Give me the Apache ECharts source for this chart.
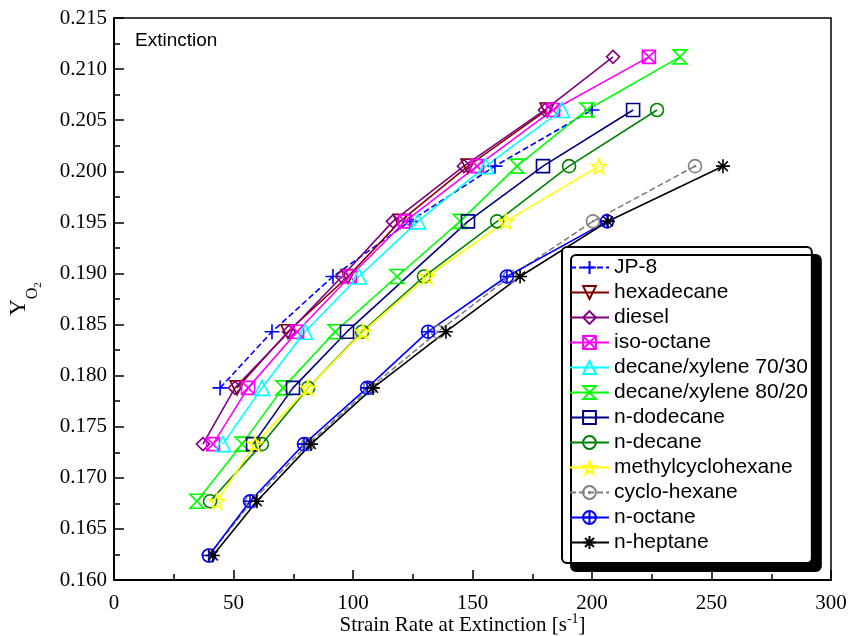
<!DOCTYPE html>
<html><head><meta charset="utf-8">
<script src="https://cdn.jsdelivr.net/npm/echarts@6/dist/echarts.min.js"></script>
<style>html,body{margin:0;padding:0;background:#fff}#c{width:853px;height:636px}</style>
</head><body><div id="c"></div>
<script>
// ---- data ----
const seriesNames = ['JP-8','hexadecane','diesel','iso-octane','decane/xylene 70/30','decane/xylene 80/20','n-dodecane','n-decane','methylcyclohexane','cyclo-hexane','n-octane','n-heptane'];
const jp8X = [44.4, 66.1, 91.6, 123.8, 159.4, 200.0];
const jp8Y = [0.1788, 0.1843, 0.1897, 0.1951, 0.2005, 0.2060];
const hexadecaneX = [51.5, 72.8, 97.9, 119.7, 148.1, 181.2];
const hexadecaneY = [0.1788, 0.1843, 0.1897, 0.1951, 0.2005, 0.2060];
const dieselX = [37.2, 50.6, 73.2, 95.4, 116.7, 146.4, 180.3, 208.8];
const dieselY = [0.1733, 0.1788, 0.1843, 0.1897, 0.1951, 0.2005, 0.2060, 0.2112];
const isoOctaneX = [41.4, 56.1, 76.6, 98.7, 121.8, 151.9, 183.7, 223.8];
const isoOctaneY = [0.1733, 0.1788, 0.1843, 0.1897, 0.1951, 0.2005, 0.2060, 0.2112];
const dx7030X = [45.6, 61.9, 79.9, 102.5, 127.2, 155.6, 187.4];
const dx7030Y = [0.1733, 0.1788, 0.1843, 0.1897, 0.1951, 0.2005, 0.2060];
const dx8020X = [34.7, 53.6, 70.7, 92.5, 118.4, 144.8, 168.6, 197.9, 236.8];
const dx8020Y = [0.1677, 0.1733, 0.1788, 0.1843, 0.1897, 0.1951, 0.2005, 0.2060, 0.2112];
const dodecaneX = [58.2, 74.9, 97.5, 148.1, 179.5, 217.2];
const dodecaneY = [0.1733, 0.1788, 0.1843, 0.1951, 0.2005, 0.2060];
const decaneX = [40.2, 61.9, 81.2, 103.8, 129.7, 160.3, 190.4, 227.2];
const decaneY = [0.1677, 0.1733, 0.1788, 0.1843, 0.1897, 0.1951, 0.2005, 0.2060];
const mchX = [43.1, 59.0, 81.2, 104.2, 131.0, 164.0, 202.9];
const mchY = [0.1677, 0.1733, 0.1788, 0.1843, 0.1897, 0.1951, 0.2005];
const cyclohexaneX = [39.7, 57.7, 81.2, 107.1, 135.6, 165.7, 200.4, 243.1];
const cyclohexaneY = [0.1624, 0.1677, 0.1733, 0.1788, 0.1843, 0.1897, 0.1951, 0.2005];
const octaneX = [39.7, 56.9, 79.5, 105.9, 131.4, 164.4, 206.3];
const octaneY = [0.1624, 0.1677, 0.1733, 0.1788, 0.1843, 0.1897, 0.1951];
const heptaneX = [41.4, 59.8, 82.4, 108.4, 138.9, 169.9, 206.7, 254.8];
const heptaneY = [0.1624, 0.1677, 0.1733, 0.1788, 0.1843, 0.1897, 0.1951, 0.2005];
const xTicks = [0, 50, 100, 150, 200, 250, 300];
const yTicks = [0.160, 0.165, 0.170, 0.175, 0.180, 0.185, 0.190, 0.195, 0.200, 0.205, 0.210, 0.215];

// ---- styles ----
const colors = ['#0000ff','#800000','#800080','#ff00ff','#00ffff','#00ff00','#000080','#008000','#ffff00','#808080','#0000ff','#000000'];
const dashed = [true,false,false,false,false,false,false,false,false,true,false,false];
const C = 'M0,10 A10,10 0 1 1 20,10 A10,10 0 1 1 0,10 Z';
const symbols = [
  'path://M10,0 L10,20 M0,10 L20,10',
  'path://M0,1 L20,1 L10,19 Z',
  'path://M10,0 L20,10 L10,20 L0,10 Z',
  'path://M0,0 L20,0 L20,20 L0,20 Z M0,0 L20,20 M20,0 L0,20',
  'path://M10,0 L20,18 L0,18 Z',
  'path://M0,0 L20,0 L0,20 L20,20 Z',
  'path://M0,0 L20,0 L20,20 L0,20 Z',
  'path://' + C,
  'path://M10,0 L12.35,6.76 L19.51,6.91 L13.8,11.24 L15.88,18.09 L10,14 L4.12,18.09 L6.2,11.24 L0.49,6.91 L7.65,6.76 Z',
  'path://' + C + ' M9,10 A1,1 0 1 1 11,10 A1,1 0 1 1 9,10 Z',
  'path://' + C + ' M10,0 L10,20 M0,10 L20,10',
  'path://M10,0 L10,20 M0,10 L20,10 M3,3 L17,17 M17,3 L3,17'
];
const sizes = [15,14,13,13,15,14,13,13,15,13,13,14];
const xs = [jp8X, hexadecaneX, dieselX, isoOctaneX, dx7030X, dx8020X, dodecaneX, decaneX, mchX, cyclohexaneX, octaneX, heptaneX];
const ys = [jp8Y, hexadecaneY, dieselY, isoOctaneY, dx7030Y, dx8020Y, dodecaneY, decaneY, mchY, cyclohexaneY, octaneY, heptaneY];

const series = seriesNames.map((n, i) => ({
  name: n, type: 'line',
  data: xs[i].map((x, j) => [x, ys[i][j]]),
  symbol: symbols[i], symbolSize: sizes[i],
  showAllSymbol: true,
  lineStyle: { color: colors[i], width: 1.6, type: dashed[i] ? [6, 3] : 'solid' },
  itemStyle: { color: 'none', borderColor: colors[i], borderWidth: 1.6 },
  emphasis: { disabled: true },
  animation: false
}));

const serif = '"Liberation Serif","Times New Roman",serif';
const sans = '"Liberation Sans",Arial,sans-serif';
const chart = echarts.init(document.getElementById('c'), null, { renderer: 'canvas' });
chart.setOption({
  animation: false,
  backgroundColor: '#fff',
  grid: { left: 114, top: 18, right: 22, bottom: 56, show: true, borderColor: '#000', borderWidth: 1.5, outerBoundsMode: 'none', containLabel: false },
  title: { text: 'Extinction', left: 135, top: 31, padding: 0, textStyle: { fontFamily: sans, fontSize: 19, fontWeight: 'normal', color: '#000' } },
  xAxis: {
    type: 'value', min: xTicks[0], max: xTicks[xTicks.length - 1], interval: 50,
    axisLine: { lineStyle: { color: '#000', width: 2 } },
    axisTick: { inside: true, length: 10, lineStyle: { color: '#000', width: 1.5 } },
    minorTick: { show: true, splitNumber: 2, length: 6, lineStyle: { color: '#000', width: 1.5 } },
    splitLine: { show: false },
    axisLabel: { color: '#000', fontFamily: serif, fontSize: 21, margin: 13 },
    name: '{n|Strain Rate at Extinction [s}{s|-1}{n|]}',
    nameLocation: 'middle', nameGap: 32, nameMoveOverlap: false,
    nameTextStyle: { padding: [0, 20, 0, 0], rich: { n: { fontFamily: serif, fontSize: 21, color: '#000', verticalAlign: 'bottom', lineHeight: 24 }, s: { fontFamily: serif, fontSize: 14, color: '#000', verticalAlign: 'top', lineHeight: 24 } } }
  },
  yAxis: {
    type: 'value', min: yTicks[0], max: yTicks[yTicks.length - 1], interval: 0.005,
    axisLine: { lineStyle: { color: '#000', width: 2 } },
    axisTick: { inside: true, length: 10, lineStyle: { color: '#000', width: 1.5 } },
    minorTick: { show: true, splitNumber: 2, length: 6, lineStyle: { color: '#000', width: 1.5 } },
    splitLine: { show: false },
    axisLabel: { color: '#000', fontFamily: serif, fontSize: 21, margin: 7, formatter: v => v.toFixed(3) },
    name: '{a|Y}{b|O}{c|2}',
    nameLocation: 'middle', nameGap: 75, nameRotate: 90, nameMoveOverlap: false,
    nameTextStyle: { rich: {
      a: { fontFamily: serif, fontSize: 23, color: '#000', verticalAlign: 'top', lineHeight: 32 },
      b: { fontFamily: serif, fontSize: 16, color: '#000', verticalAlign: 'bottom', lineHeight: 32, padding: [0,0,-2,0] },
      c: { fontFamily: serif, fontSize: 11, color: '#000', verticalAlign: 'bottom', lineHeight: 32, padding: [0,0,-5,0] } } }
  },
  legend: {
    orient: 'vertical', left: 562, top: 247,
    data: seriesNames,
    itemWidth: 39, itemHeight: 16, itemGap: 0,
    padding: [8, 4, 8, 7],
    backgroundColor: '#fff', borderColor: '#000', borderWidth: 2, borderRadius: 5,
    shadowColor: '#000', shadowBlur: 0, shadowOffsetX: 9, shadowOffsetY: 8,
    textStyle: { fontFamily: sans, fontSize: 21, color: '#000', lineHeight: 25 },
    selectedMode: false
  },
  series: series
});
</script></body></html>
